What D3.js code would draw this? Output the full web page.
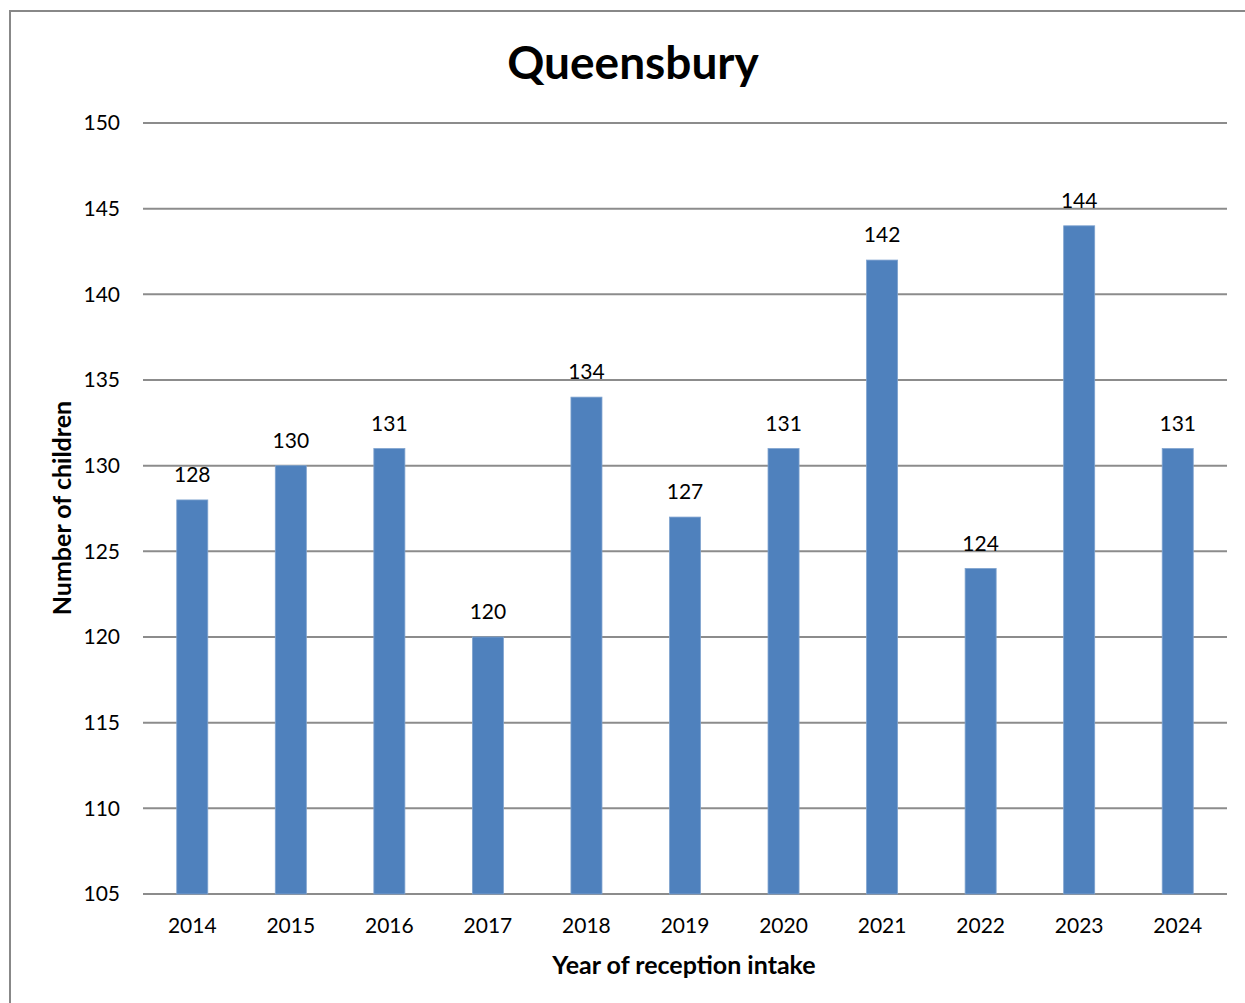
<!DOCTYPE html>
<html><head><meta charset="utf-8">
<script src="https://cdn.jsdelivr.net/npm/d3@7"></script>
<style>body{margin:0;background:#fff}svg{display:block}text{font-family:Lato,"Open Sans",sans-serif}</style>
</head><body>
<script>
const years = ["2014","2015","2016","2017","2018","2019","2020","2021","2022","2023","2024"];
const values = [128,130,131,120,134,127,131,142,124,144,131];
const yTicks = [105,110,115,120,125,130,135,140,145,150];

const W = 1245, H = 1003;
const svg = d3.select("body").append("svg").attr("width", W).attr("height", H);
svg.append("rect").attr("x", 10).attr("y", 11).attr("width", W).attr("height", H)
  .attr("fill", "#fff").attr("stroke", "#888").attr("stroke-width", 2);

const L = 143, R = 1227, T = 123, B = 894;
const x = d3.scaleBand().domain(years).range([L, R]).paddingInner(0.685).paddingOuter(0.3425);
const y = d3.scaleLinear().domain([105, 150]).range([B, T]);

// gridlines
svg.append("g").selectAll("line").data(yTicks).join("line")
  .attr("x1", L).attr("x2", R).attr("y1", d => y(d)).attr("y2", d => y(d))
  .attr("stroke", "#8c8c8c").attr("stroke-width", 2);

// y tick labels
svg.append("g").selectAll("text").data(yTicks).join("text")
  .attr("x", 120).attr("y", d => y(d)).attr("dy", "0.35em")
  .attr("text-anchor", "end").attr("font-size", 21).attr("fill", "#000").text(d => d);

// bars
svg.append("g").selectAll("rect").data(values).join("rect")
  .attr("x", (d, i) => x(years[i])).attr("width", x.bandwidth())
  .attr("y", d => y(d)).attr("height", d => B - y(d))
  .attr("fill", "#4f81bd").attr("stroke", "#7fa3cf").attr("stroke-width", 0.8);

// data labels
svg.append("g").selectAll("text").data(values).join("text")
  .attr("x", (d, i) => x(years[i]) + x.bandwidth() / 2).attr("y", d => y(d) - 25)
  .attr("dy", "0.35em").attr("text-anchor", "middle").attr("font-size", 21).attr("fill", "#000").text(d => d);

// x tick labels
svg.append("g").selectAll("text").data(years).join("text")
  .attr("x", d => x(d) + x.bandwidth() / 2).attr("y", 926).attr("dy", "0.35em")
  .attr("text-anchor", "middle").attr("font-size", 21).attr("fill", "#000").text(d => d);

// title
svg.append("text").attr("x", 633).attr("y", 63).attr("dy", "0.35em").attr("text-anchor", "middle")
  .attr("font-size", 46).attr("font-weight", "bold").text("Queensbury");

// axis titles
svg.append("text").attr("x", 684).attr("y", 965).attr("dy", "0.35em").attr("text-anchor", "middle")
  .attr("font-size", 25).attr("font-weight", "bold").text("Year of reception intake");
svg.append("text").attr("transform", "translate(62,508) rotate(-90)").attr("dy", "0.35em")
  .attr("text-anchor", "middle").attr("font-size", 25).attr("font-weight", "bold").text("Number of children");
</script>
</body></html>
